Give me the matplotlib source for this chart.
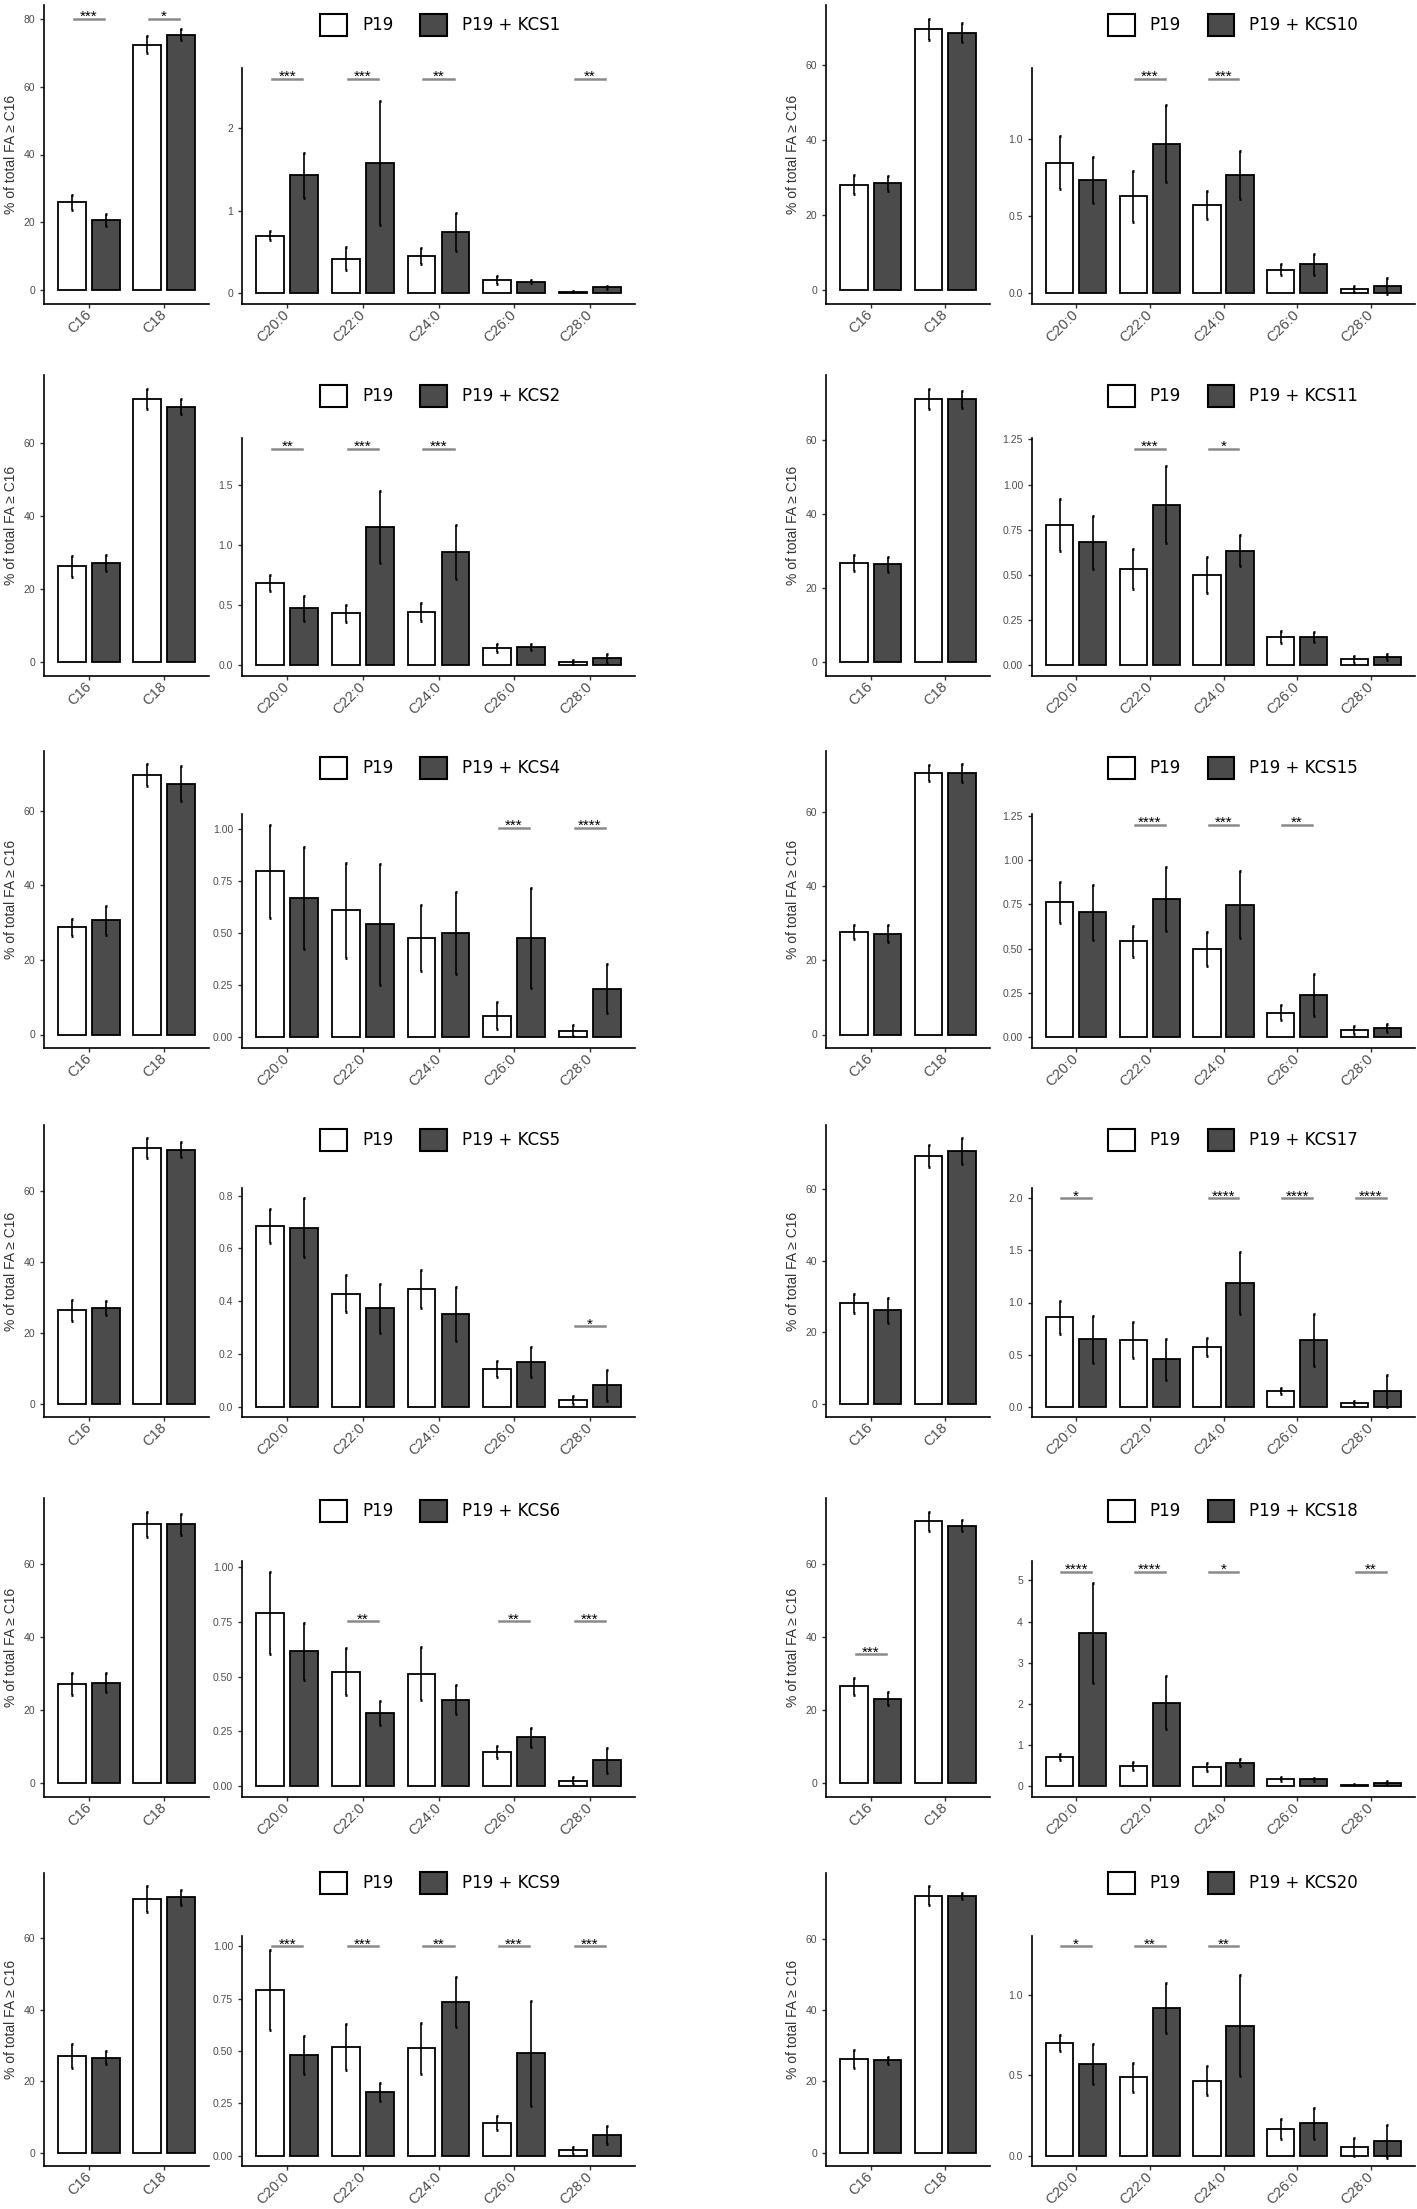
import matplotlib.pyplot as plt
import numpy as np
from matplotlib.patches import Patch
from matplotlib.ticker import MultipleLocator, FormatStrFormatter

# panels in reading order: row by row, left then right
kcs_names = ['KCS1', 'KCS10', 'KCS2', 'KCS11', 'KCS4', 'KCS15',
             'KCS5', 'KCS17', 'KCS6', 'KCS18', 'KCS9', 'KCS20']
short_cats = ['C16', 'C18']
long_cats = ['C20:0', 'C22:0', 'C24:0', 'C26:0', 'C28:0']

short_p19 = [[26.0, 72.3], [28.2, 69.5], [26.2, 72.0], [26.9, 71.2], [28.8, 69.5], [27.7, 70.5],
             [26.3, 71.9], [28.1, 69.3], [27.2, 71.0], [26.6, 71.7], [27.0, 70.9], [26.3, 72.2]]
short_p19_sd = [[2.2, 2.5], [2.6, 2.9], [2.8, 2.8], [2.2, 2.7], [2.3, 2.9], [1.9, 2.2],
                [2.9, 2.8], [2.6, 3.0], [3.1, 3.5], [2.3, 2.6], [3.3, 3.6], [2.5, 2.6]]
short_kcs = [[20.7, 75.3], [28.6, 68.6], [27.1, 69.9], [26.5, 71.0], [30.6, 67.3], [27.2, 70.5],
             [26.9, 71.5], [26.1, 70.7], [27.6, 71.0], [23.2, 70.4], [26.6, 71.4], [25.9, 72.0]]
short_kcs_sd = [[1.8, 1.7], [2.0, 2.5], [2.1, 2.1], [2.0, 2.2], [3.9, 4.7], [2.3, 2.3],
                [2.0, 2.1], [3.5, 3.6], [2.6, 2.9], [1.7, 1.5], [1.9, 2.0], [1.0, 0.9]]
short_sig = [['***', '*'], ['', ''], ['', ''], ['', ''], ['', ''], ['', ''],
             ['', ''], ['', ''], ['', ''], ['***', ''], ['', ''], ['', '']]
short_sig_y = [80, 0, 0, 0, 0, 0, 0, 0, 0, 35.3, 0, 0]

long_p19 = [[0.70, 0.42, 0.455, 0.16, 0.02],
            [0.846, 0.628, 0.57, 0.154, 0.029],
            [0.685, 0.431, 0.442, 0.141, 0.028],
            [0.778, 0.531, 0.50, 0.157, 0.033],
            [0.795, 0.608, 0.476, 0.104, 0.032],
            [0.762, 0.541, 0.498, 0.14, 0.041],
            [0.684, 0.427, 0.445, 0.142, 0.025],
            [0.859, 0.639, 0.569, 0.15, 0.038],
            [0.791, 0.523, 0.514, 0.158, 0.026],
            [0.705, 0.50, 0.475, 0.18, 0.04],
            [0.791, 0.52, 0.513, 0.156, 0.025],
            [0.70, 0.488, 0.467, 0.164, 0.053]]
long_p19_sd = [[0.05, 0.14, 0.095, 0.05, 0.01],
               [0.17, 0.165, 0.09, 0.035, 0.02],
               [0.066, 0.072, 0.077, 0.033, 0.016],
               [0.144, 0.11, 0.10, 0.033, 0.019],
               [0.224, 0.228, 0.16, 0.066, 0.027],
               [0.116, 0.09, 0.098, 0.04, 0.024],
               [0.064, 0.07, 0.072, 0.03, 0.015],
               [0.157, 0.17, 0.086, 0.032, 0.02],
               [0.188, 0.108, 0.12, 0.027, 0.015],
               [0.07, 0.10, 0.10, 0.05, 0.02],
               [0.19, 0.11, 0.121, 0.033, 0.016],
               [0.05, 0.089, 0.089, 0.061, 0.056]]
long_kcs = [[1.43, 1.58, 0.74, 0.14, 0.07],
            [0.733, 0.969, 0.767, 0.187, 0.048],
            [0.472, 1.146, 0.942, 0.155, 0.058],
            [0.68, 0.889, 0.634, 0.157, 0.044],
            [0.668, 0.542, 0.499, 0.476, 0.234],
            [0.707, 0.782, 0.749, 0.24, 0.052],
            [0.678, 0.372, 0.351, 0.169, 0.08],
            [0.645, 0.454, 1.188, 0.639, 0.15],
            [0.615, 0.333, 0.395, 0.223, 0.118],
            [3.73, 2.03, 0.574, 0.17, 0.08],
            [0.481, 0.305, 0.734, 0.489, 0.10],
            [0.568, 0.92, 0.81, 0.202, 0.088]]
long_kcs_sd = [[0.27, 0.75, 0.23, 0.02, 0.02],
               [0.15, 0.25, 0.155, 0.07, 0.05],
               [0.105, 0.30, 0.226, 0.025, 0.039],
               [0.146, 0.214, 0.085, 0.027, 0.017],
               [0.244, 0.29, 0.196, 0.24, 0.118],
               [0.155, 0.18, 0.19, 0.12, 0.024],
               [0.111, 0.092, 0.104, 0.057, 0.058],
               [0.224, 0.20, 0.30, 0.25, 0.15],
               [0.129, 0.055, 0.065, 0.042, 0.058],
               [1.21, 0.65, 0.09, 0.03, 0.04],
               [0.091, 0.042, 0.12, 0.252, 0.043],
               [0.125, 0.158, 0.314, 0.097, 0.101]]
long_sig = [['***', '***', '**', '', '**'],
            ['', '***', '***', '', ''],
            ['**', '***', '***', '', ''],
            ['', '***', '*', '', ''],
            ['', '', '', '***', '****'],
            ['', '****', '***', '**', ''],
            ['', '', '', '', '*'],
            ['*', '', '****', '****', '****'],
            ['', '**', '', '**', '***'],
            ['****', '****', '*', '', '**'],
            ['***', '***', '**', '***', '***'],
            ['*', '**', '**', '', '']]
long_sig_y = [2.6, 1.39, 1.80, 1.198, 1.003, 1.20, 0.304, 2.0, 0.752, 5.21, 1.0, 1.303]
long_step = [1, 0.5, 0.5, 0.25, 0.25, 0.25, 0.2, 0.5, 0.25, 1, 0.25, 0.5]

W, H = 1417, 2209
dark = '#4b4b4b'
sans = ['Liberation Sans', 'DejaVu Sans']

fig = plt.figure(figsize=(W / 100, H / 100), dpi=100)

small_x = [(44, 209), (826, 990)]
big_x = [(242, 635), (1032, 1415)]
row_top = [5, 375, 751, 1125, 1498, 1873]
row_bottom = [304, 676, 1048, 1417, 1797, 2166]
legend_y = [25, 396, 768, 1140, 1511, 1883]
legend_x = [440, 1233]


def px_axes(x0, x1, y0, y1):
    return fig.add_axes([x0 / W, 1 - y1 / H, (x1 - x0) / W, (y1 - y0) / H])


def draw_bars(ax, cats, p19, p19_sd, kcs, kcs_sd, sig, sig_y, step, dec):
    x = np.arange(1, len(cats) + 1)
    ax.bar(x - 0.225, p19, 0.37, color='white', edgecolor='black', linewidth=1.3, zorder=2)
    ax.bar(x + 0.225, kcs, 0.37, color=dark, edgecolor='black', linewidth=1.3, zorder=2)
    for xs, m, s in [(x - 0.225, p19, p19_sd), (x + 0.225, kcs, kcs_sd)]:
        ax.errorbar(xs, m, yerr=s, fmt='none', ecolor='black', elinewidth=1.2,
                    capsize=1.0, capthick=2.0, zorder=3)
    for i, s in enumerate(sig):
        if s:
            ax.plot([x[i] - 0.2, x[i] + 0.2], [sig_y, sig_y], color='#8a8a8a', lw=1.8, zorder=3)
            ax.annotate(s, (x[i], sig_y), xytext=(0, -1.5), textcoords='offset points',
                        ha='center', va='baseline', fontsize=11, family=sans)
    top = max(np.max(np.add(p19, p19_sd)), np.max(np.add(kcs, kcs_sd)))
    if any(sig):
        top = max(top, sig_y)
    ax.set_ylim(-0.05 * top, 1.05 * top)
    ax.set_xlim(0.4, len(cats) + 0.6)
    ax.set_xticks(x)
    ax.set_xticklabels(cats, rotation=45, ha='right', va='center', rotation_mode='anchor',
                       family=sans, fontsize=10.5, color='#4d4d4d')
    ax.yaxis.set_major_locator(MultipleLocator(step))
    ax.yaxis.set_major_formatter(FormatStrFormatter('%.' + str(dec) + 'f'))
    for lab in ax.get_yticklabels():
        lab.set_family(sans)
    ax.tick_params(axis='y', labelsize=7.5, labelcolor='#4d4d4d', length=3, width=1, color='#333333')
    ax.tick_params(axis='x', length=3, width=1, color='#333333', pad=3)
    for side in ['top', 'right']:
        ax.spines[side].set_visible(False)
    for side in ['left', 'bottom']:
        ax.spines[side].set_linewidth(1.2)


for k in range(len(kcs_names)):
    r, c = k // 2, k % 2
    ax1 = px_axes(small_x[c][0], small_x[c][1], row_top[r], row_bottom[r])
    draw_bars(ax1, short_cats, short_p19[k], short_p19_sd[k], short_kcs[k], short_kcs_sd[k],
              short_sig[k], short_sig_y[k], 20, 0)
    ax1.set_ylabel('% of total FA \u2265 C16', family=sans, fontsize=10, color='#333333')
    ax1.yaxis.set_label_coords(-26 / (small_x[c][1] - small_x[c][0]), 0.5)

    step = long_step[k]
    dec = 0 if step >= 1 else (1 if step in (0.5, 0.2) else 2)
    ax2 = px_axes(big_x[c][0], big_x[c][1], row_top[r] + 63, row_bottom[r])
    draw_bars(ax2, long_cats, long_p19[k], long_p19_sd[k], long_kcs[k], long_kcs_sd[k],
              long_sig[k], long_sig_y[k], step, dec)

    handles = [Patch(facecolor='white', edgecolor='black', lw=1.5, label='P19'),
               Patch(facecolor=dark, edgecolor='black', lw=1.5, label='P19 + ' + kcs_names[k])]
    fig.legend(handles=handles, loc='center', ncol=2, frameon=False,
               bbox_to_anchor=(legend_x[c] / W, 1 - legend_y[r] / H),
               prop={'family': 'DejaVu Sans', 'size': 12},
               handlelength=1.6, handleheight=1.6, handletextpad=0.9, columnspacing=1.6)

fig.savefig('out.png', dpi=100, facecolor='white')
